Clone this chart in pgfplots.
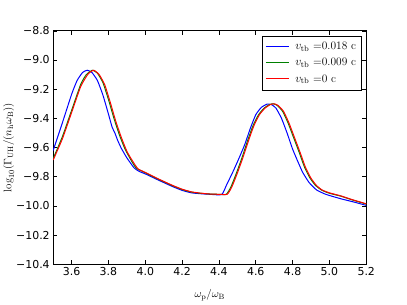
\documentclass[border=0pt]{standalone}
\usepackage{pgfplots}
\pgfplotsset{compat=1.18}
\usepackage{fontspec}
\newfontfamily\dejavu{DejaVu Sans}
\definecolor{mplblue}{rgb}{0,0,1}
\definecolor{mplgreen}{rgb}{0,0.5,0}
\definecolor{mplred}{rgb}{1,0,0}
\begin{document}
\begin{tikzpicture}[x=1bp,y=1bp]
\path (-51bp,-39bp) rectangle (356bp,266bp);
\begin{axis}[
  at={(0,0)}, anchor=south west,
  scale only axis, width=315bp, height=235bp,
  xmin=3.5, xmax=5.2, ymin=-10.4, ymax=-8.8,
  xtick={3.6,3.8,4.0,4.2,4.4,4.6,4.8,5.0,5.2},
  xticklabels={3.6,3.8,4.0,4.2,4.4,4.6,4.8,5.0,5.2},
  ytick={-10.4,-10.2,-10.0,-9.8,-9.6,-9.4,-9.2,-9.0,-8.8},
  yticklabels={−10.4,−10.2,−10.0,−9.8,−9.6,−9.4,−9.2,−9.0,−8.8},
  tick label style={font=\dejavu\fontsize{11bp}{13bp}\selectfont},
  tick align=inside, major tick length=4bp,
  xtick pos=both, ytick pos=both,
  axis line style={line width=0.8bp},
  every tick/.style={black, line width=0.6bp},
  xlabel={$\omega_{\rm p}/\omega_{\rm B}$},
  ylabel={$\log_{10}(\Gamma_{\rm UH}/(n_{\rm h}\omega_{\rm B}))$},
  label style={font=\fontsize{11bp}{13bp}\selectfont},
  xlabel style={at={(axis description cs:0.5,-0.132)}, anchor=center},
  ylabel style={at={(axis description cs:-0.142,0.5)}, anchor=center},
  legend style={at={(rel axis cs:0.984,0.979)}, anchor=north east,
    draw=black, font=\fontsize{11.5bp}{13bp}\selectfont,
    inner xsep=3bp, inner ysep=4.5bp, row sep=3bp, column sep=4bp,
    cells={anchor=west}},
  legend image code/.code={\draw[#1] (0bp,0bp) -- (23bp,0bp);},
  every axis plot/.append style={line width=1bp, smooth, tension=0.3},
]
\addplot[draw=mplblue] coordinates {
(3.50,-9.62) (3.55,-9.43) (3.60,-9.235) (3.63,-9.14) (3.66,-9.085)
(3.685,-9.07) (3.71,-9.085) (3.74,-9.14) (3.77,-9.24) (3.80,-9.37)
(3.82,-9.46) (3.835,-9.50) (3.85,-9.55) (3.87,-9.605) (3.90,-9.67)
(3.94,-9.74) (3.97,-9.765) (4.00,-9.78) (4.07,-9.822) (4.15,-9.868)
(4.20,-9.893) (4.25,-9.91) (4.30,-9.916) (4.35,-9.92) (4.415,-9.922)
(4.44,-9.86) (4.48,-9.755) (4.51,-9.67) (4.54,-9.58) (4.57,-9.47)
(4.60,-9.375) (4.63,-9.325) (4.66,-9.303) (4.685,-9.305) (4.71,-9.33)
(4.74,-9.40) (4.77,-9.50) (4.80,-9.61) (4.83,-9.70) (4.855,-9.77)
(4.89,-9.84) (4.93,-9.89) (4.98,-9.92) (5.06,-9.95) (5.13,-9.972)
(5.20,-9.996)};
\addlegendentry{$v_{\rm tb}$ =0.018 c}
\addplot[draw=mplgreen] coordinates {
(3.50,-9.675) (3.55,-9.525) (3.60,-9.345) (3.65,-9.165) (3.68,-9.10)
(3.713,-9.07) (3.74,-9.09) (3.77,-9.155) (3.80,-9.27) (3.83,-9.40)
(3.86,-9.515) (3.89,-9.61) (3.92,-9.68) (3.95,-9.74) (4.00,-9.772)
(4.07,-9.816) (4.15,-9.862) (4.20,-9.887) (4.25,-9.905) (4.30,-9.913)
(4.35,-9.918) (4.40,-9.92) (4.44,-9.92) (4.465,-9.87) (4.495,-9.775)
(4.525,-9.67) (4.555,-9.555) (4.585,-9.45) (4.615,-9.375) (4.645,-9.33)
(4.675,-9.305) (4.695,-9.30) (4.715,-9.31) (4.745,-9.35) (4.775,-9.43)
(4.805,-9.53) (4.835,-9.63) (4.865,-9.735) (4.895,-9.81) (4.925,-9.86)
(4.96,-9.893) (5.00,-9.913) (5.06,-9.932) (5.12,-9.957) (5.20,-9.987)};
\addlegendentry{$v_{\rm tb}$ =0.009 c}
\addplot[draw=mplred] coordinates {
(3.50,-9.685) (3.55,-9.54) (3.60,-9.36) (3.65,-9.18) (3.69,-9.095)
(3.72,-9.07) (3.75,-9.10) (3.78,-9.17) (3.81,-9.29) (3.84,-9.42)
(3.87,-9.53) (3.90,-9.625) (3.93,-9.69) (3.96,-9.745) (4.00,-9.77)
(4.07,-9.814) (4.15,-9.86) (4.20,-9.885) (4.25,-9.903) (4.30,-9.912)
(4.35,-9.918) (4.40,-9.92) (4.445,-9.92) (4.47,-9.87) (4.50,-9.775)
(4.53,-9.67) (4.56,-9.555) (4.59,-9.45) (4.62,-9.375) (4.65,-9.33)
(4.68,-9.305) (4.70,-9.30) (4.72,-9.31) (4.75,-9.35) (4.78,-9.43)
(4.81,-9.53) (4.84,-9.63) (4.87,-9.735) (4.90,-9.81) (4.93,-9.86)
(4.96,-9.89) (5.00,-9.91) (5.06,-9.93) (5.12,-9.955) (5.20,-9.985)};
\addlegendentry{$v_{\rm tb}$ =0 c}
\end{axis}
\end{tikzpicture}
\end{document}
